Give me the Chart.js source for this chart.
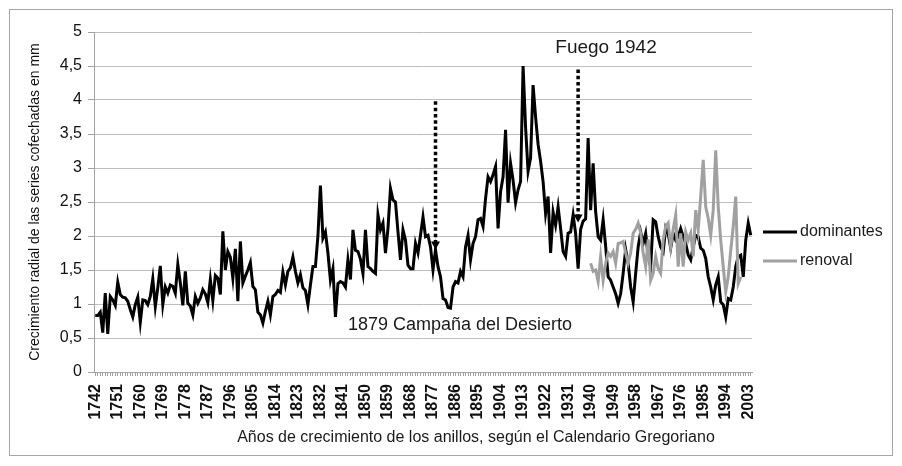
<!DOCTYPE html>
<html>
<head>
<meta charset="utf-8">
<title>Crecimiento radial - dominantes y renoval</title>
<script src="https://cdn.jsdelivr.net/npm/chart.js"></script>
<style>
  body { margin: 0; padding: 0; background: #fff; }
  #wrap { position: relative; width: 902px; height: 466px; }
</style>
</head>
<body>
<div id="wrap"><canvas id="chart" width="902" height="466"></canvas></div>
<script>
// Series values (mm), one per year starting at firstYear
const firstYear = 1742;
const dominantes = [
  0.83, 0.83, 0.88, 0.58, 1.16, 0.56, 1.11, 1.06, 0.98, 1.32,
  1.14, 1.10, 1.09, 1.04, 0.92, 0.81, 0.99, 1.10, 0.73, 1.06,
  1.05, 0.99, 1.11, 1.37, 0.96, 1.24, 1.56, 0.99, 1.25, 1.16,
  1.28, 1.26, 1.16, 1.58, 1.31, 0.98, 1.48, 1.01, 0.97, 0.84,
  1.11,
  1.01, 1.09, 1.21, 1.15, 1.02, 1.36, 1.05, 1.42, 1.38, 1.14,
  2.07, 1.50, 1.77, 1.69, 1.38, 1.81, 1.04, 1.92, 1.31, 1.41,
  1.50, 1.61, 1.26, 1.21, 0.88, 0.84, 0.72, 0.89, 1.04, 0.84,
  1.11, 1.14, 1.20, 1.17, 1.47, 1.28, 1.48, 1.53, 1.69, 1.48,
  1.31, 1.43, 1.24, 1.20, 0.99, 1.28, 1.55, 1.55, 2.00,
  2.74, 1.97, 2.06, 1.75, 1.35, 1.52, 0.81, 1.30, 1.33, 1.31,
  1.25, 1.65, 1.36, 2.09, 1.79, 1.77, 1.66, 1.45, 2.09, 1.55,
  1.52, 1.48, 1.45, 2.31, 2.09, 2.19, 1.75, 2.11, 2.70, 2.53,
  2.50, 2.06, 1.65, 2.09, 1.94, 1.57, 1.52, 1.52, 1.89, 1.75,
  2.01, 2.28, 1.99, 2.01, 1.84,
  1.50, 1.80, 1.55, 1.40, 1.08, 1.06, 0.95, 0.94, 1.25, 1.33,
  1.31, 1.48, 1.40, 1.84, 2.01, 1.65, 1.89, 1.99, 2.24, 2.26,
  2.14, 2.55, 2.87, 2.80, 2.90, 3.02, 2.11, 2.65, 2.87, 3.56,
  2.49, 3.07, 2.82, 2.49, 2.68, 2.80, 4.50, 3.60, 2.95, 3.15,
  4.22, 3.75, 3.35, 3.10, 2.80, 2.33, 2.58,
  1.75, 2.35, 2.16, 2.43, 2.11, 1.77, 1.70, 2.04, 2.06, 2.31,
  2.04, 1.52, 2.10, 2.22, 2.25, 3.44, 2.38, 3.07, 2.36, 1.99,
  1.94, 2.24, 1.85, 1.40, 1.35, 1.25, 1.15, 1.01, 1.15, 1.45,
  1.80, 1.60, 1.25, 1.03, 1.45, 1.84, 2.06, 1.89, 2.04, 1.70,
  1.55, 2.24,
  2.21, 1.99, 1.84, 1.77, 2.12, 2.04, 1.82, 2.04, 1.94, 1.99,
  2.11, 1.99, 1.89, 1.72, 1.65, 1.84, 2.01, 1.99, 1.82, 1.79,
  1.67, 1.40, 1.25, 1.06, 1.28, 1.40, 1.03, 0.99, 0.81, 1.08,
  1.06, 1.25, 1.55, 1.70, 1.72, 1.40, 1.94, 2.19, 2.01
];

const renovalStart = 1940;
const renoval = [
  1.60, 1.48, 1.50, 1.33, 1.70, 1.35, 1.60, 1.75, 1.70, 1.77,
  1.60, 1.89, 1.90, 1.92, 1.75, 1.60, 1.75, 2.04, 2.10, 2.19,
  2.04, 1.75, 1.55, 1.95, 1.35, 1.45, 1.70, 1.52, 1.45, 1.94,
  2.14, 2.19, 1.84, 2.10, 2.31, 1.55, 2.04, 1.55, 2.06, 1.94,
  2.04, 1.70, 2.38, 2.09, 2.58, 3.12, 2.43, 2.26, 2.01, 2.38,
  3.26, 2.43, 1.94, 1.55, 1.18, 1.40, 1.79, 2.14, 2.58, 1.30,
  1.40
];

// category labels (years) and label spacing on the x axis
const years = dominantes.map((v, i) => String(firstYear + i));
const labelEvery = 9;

const renovalSeries = years.map(y => {
  const k = Number(y) - renovalStart;
  return (k >= 0 && k < renoval.length) ? renoval[k] : null;
});

const FONT = '"Liberation Sans", Arial, sans-serif';
const GRID = '#bdbdbd';
const AXIS = '#a3a3a3';

function dottedArrow(ctx, x, y1, y2) {
  ctx.save();
  ctx.strokeStyle = '#000';
  ctx.lineWidth = 3.5;
  ctx.setLineDash([3.5, 2.8]);
  ctx.beginPath();
  ctx.moveTo(x, y1);
  ctx.lineTo(x, y2 - 6);
  ctx.stroke();
  ctx.setLineDash([]);
  ctx.fillStyle = '#000';
  ctx.beginPath();
  ctx.moveTo(x - 4.5, y2 - 8);
  ctx.lineTo(x + 4.5, y2 - 8);
  ctx.lineTo(x, y2);
  ctx.closePath();
  ctx.fill();
  ctx.restore();
}

const extras = {
  id: 'extras',
  beforeDraw(chart) {
    const ctx = chart.ctx;
    ctx.save();
    ctx.fillStyle = '#fff';
    ctx.fillRect(0, 0, chart.width, chart.height);
    ctx.strokeStyle = '#a6a6a6';
    ctx.lineWidth = 1;
    ctx.strokeRect(9.5, 9.5, 883, 446);
    ctx.restore();
  },
  afterDatasetsDraw(chart) {
    const {ctx, scales: {x, y}} = chart;
    // event markers
    const xa = x.getPixelForValue(years.indexOf('1878'));
    dottedArrow(ctx, xa, y.getPixelForValue(3.98), y.getPixelForValue(1.8));
    const xb = x.getPixelForValue(years.indexOf('1935'));
    dottedArrow(ctx, xb, y.getPixelForValue(4.45), y.getPixelForValue(2.2));

    ctx.save();
    ctx.fillStyle = '#1a1a1a';
    ctx.textAlign = 'center';
    ctx.textBaseline = 'middle';
    ctx.font = '19px ' + FONT;
    ctx.fillText('Fuego 1942', 606, 48);
    ctx.font = '18px ' + FONT;
    ctx.fillText('1879 Campaña del Desierto', 460, 325);

    // x axis title
    ctx.font = '16px ' + FONT;
    ctx.fillText('Años de crecimiento de los anillos, según el Calendario Gregoriano', 476, 438);

    // legend
    ctx.textAlign = 'left';
    chart.data.datasets.forEach((ds, i) => {
      const ly = 232 + i * 29;
      ctx.strokeStyle = ds.borderColor;
      ctx.lineWidth = 3;
      ctx.beginPath();
      ctx.moveTo(763, ly);
      ctx.lineTo(797, ly);
      ctx.stroke();
      ctx.fillStyle = '#1a1a1a';
      ctx.font = '16px ' + FONT;
      ctx.fillText(ds.label, 800, ly);
    });
    ctx.restore();
  }
};

new Chart(document.getElementById('chart'), {
  type: 'line',
  data: {
    labels: years,
    datasets: [
      {
        label: 'dominantes',
        data: dominantes,
        borderColor: '#000000',
        borderWidth: 3,
        pointRadius: 0,
        tension: 0,
        order: 1
      },
      {
        label: 'renoval',
        data: renovalSeries,
        borderColor: '#a0a0a0',
        borderWidth: 3,
        pointRadius: 0,
        tension: 0,
        order: 0
      }
    ]
  },
  options: {
    responsive: false,
    animation: false,
    layout: { padding: { top: 32, right: 150, bottom: 0, left: 0 } },
    plugins: {
      legend: { display: false },
      tooltip: { enabled: false }
    },
    scales: {
      x: {
        type: 'category',
        offset: true,
        grid: { drawOnChartArea: false, drawTicks: true, tickLength: 4, color: AXIS },
        border: { color: AXIS },
        ticks: {
          autoSkip: false,
          minRotation: 90,
          maxRotation: 90,
          padding: 8,
          color: '#111',
          font: { family: FONT, size: 16, weight: 'bold' },
          callback: (v, i) => (i % labelEvery === 0 ? years[i] : '')
        },
        afterFit: s => { s.height = 94; }
      },
      y: {
        min: 0,
        max: 5,
        grid: { color: GRID, tickLength: 6, tickColor: AXIS },
        border: { color: AXIS },
        ticks: {
          stepSize: 0.5,
          padding: 6,
          color: '#111',
          font: { family: FONT, size: 16 },
          callback: v => String(v).replace('.', ',')
        },
        title: {
          display: true,
          text: 'Crecimiento radial de las series cofechadas en mm',
          color: '#111',
          font: { family: FONT, size: 14 },
          padding: { top: 27, bottom: 0 }
        },
        afterFit: s => { s.width = 94; }
      }
    }
  },
  plugins: [extras]
});
</script>
</body>
</html>
